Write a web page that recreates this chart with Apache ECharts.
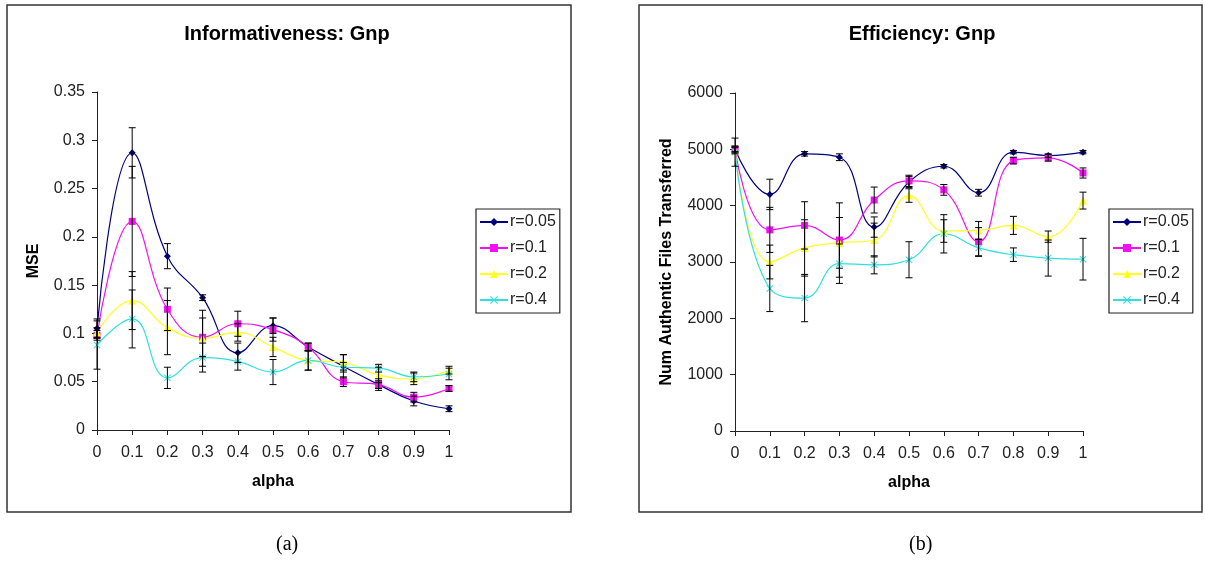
<!DOCTYPE html>
<html>
<head>
<meta charset="utf-8">
<script src="https://cdn.jsdelivr.net/npm/echarts@6/dist/echarts.min.js"></script>
<style>
  html, body { margin: 0; padding: 0; background: #fff; }
  #main { width: 1205px; height: 563px; }
</style>
</head>
<body>
<div id="main"></div>
<script>
// ---- data
const alpha = [0, 0.1, 0.2, 0.3, 0.4, 0.5, 0.6, 0.7, 0.8, 0.9, 1];
const seriesNames = ['r=0.05', 'r=0.1', 'r=0.2', 'r=0.4'];

// (a) Informativeness: MSE
const mse_r005 = [0.105, 0.287, 0.180, 0.137, 0.080, 0.108, 0.086, 0.066, 0.047, 0.030, 0.022];
const mse_r01  = [0.098, 0.216, 0.125, 0.096, 0.110, 0.104, 0.086, 0.050, 0.047, 0.034, 0.043];
const mse_r02  = [0.101, 0.134, 0.106, 0.095, 0.101, 0.086, 0.072, 0.070, 0.057, 0.053, 0.062];
const mse_r04  = [0.088, 0.115, 0.054, 0.075, 0.071, 0.060, 0.072, 0.065, 0.064, 0.055, 0.058];
const mse_r005_err = [0.010, 0.026, 0.013, 0.003, 0.010, 0.008, 0.004, 0.012, 0.004, 0.005, 0.003];
const mse_r01_err  = [0.005, 0.057, 0.022, 0.020, 0.013, 0.012, 0.004, 0.005, 0.006, 0.005, 0.003];
const mse_r02_err  = [0.005, 0.030, 0.028, 0.029, 0.009, 0.010, 0.010, 0.008, 0.008, 0.006, 0.004];
const mse_r04_err  = [0.025, 0.030, 0.011, 0.015, 0.009, 0.013, 0.010, 0.005, 0.004, 0.005, 0.006];

// (b) Efficiency: num authentic files transferred
const files_r005 = [5000, 4200, 4920, 4860, 3620, 4420, 4700, 4230, 4950, 4890, 4950];
const files_r01  = [5000, 3570, 3650, 3390, 4100, 4440, 4280, 3360, 4800, 4850, 4580];
const files_r02  = [4980, 3000, 3250, 3340, 3390, 4180, 3550, 3560, 3650, 3450, 4090];
const files_r04  = [4950, 2530, 2360, 2970, 2950, 3040, 3500, 3250, 3130, 3070, 3050];
const files_r005_err = [40, 270, 40, 60, 180, 100, 30, 60, 30, 30, 30];
const files_r01_err  = [60, 400, 420, 660, 230, 100, 95, 250, 60, 60, 90];
const files_r02_err  = [60, 300, 500, 450, 300, 120, 200, 160, 160, 100, 150];
const files_r04_err  = [250, 410, 420, 350, 160, 320, 340, 150, 120, 320, 370];

const yTicksA = { min: 0, max: 0.35, interval: 0.05 };
const yTicksB = { min: 0, max: 6000, interval: 1000 };

// ---- styles
const colors = ['#000080', '#F010F0', '#FFFF20', '#30E0E0'];
const symbols = ['diamond', 'rect', 'triangle',
    'path://M0,1L1,0L5,4L9,0L10,1L6,5L10,9L9,10L5,6L1,10L0,9L4,5Z'];
const symbolSizes = [7, 7, 8, 7];

var chart = echarts.init(document.getElementById('main'));

function lineSeries(idx, gridIdx, values) {
    return {
        name: seriesNames[idx],
        type: 'line',
        xAxisIndex: gridIdx,
        yAxisIndex: gridIdx,
        smooth: 0.45,
        symbol: symbols[idx],
        symbolSize: symbolSizes[idx],
        lineStyle: { width: 1.2, color: colors[idx] },
        itemStyle: { color: colors[idx] },
        data: alpha.map(function (a, i) { return [a, values[i]]; }),
        z: 3
    };
}

function errorSeries(gridIdx, values, errors) {
    let data = [];
    alpha.forEach(function (a, i) {
        if (errors[i] > 0) data.push([a, values[i] - errors[i], values[i] + errors[i]]);
    });
    return {
        name: 'err',
        type: 'custom',
        xAxisIndex: gridIdx,
        yAxisIndex: gridIdx,
        data: data,
        z: 4,
        renderItem: function (params, api) {
            let x = api.value(0);
            let lo = api.coord([x, api.value(1)]);
            let hi = api.coord([x, api.value(2)]);
            let w = 3.5;
            let st = { stroke: '#000', lineWidth: 1 };
            return {
                type: 'group',
                children: [
                    { type: 'line', shape: { x1: lo[0], y1: hi[1], x2: lo[0], y2: lo[1] }, style: st },
                    { type: 'line', shape: { x1: lo[0] - w, y1: hi[1], x2: lo[0] + w, y2: hi[1] }, style: st },
                    { type: 'line', shape: { x1: lo[0] - w, y1: lo[1], x2: lo[0] + w, y2: lo[1] }, style: st }
                ]
            };
        }
    };
}

const axisTxt = { color: '#222', fontSize: 16, fontFamily: 'Liberation Sans, Arial, sans-serif' };
const nameTxt = { color: '#000', fontSize: 16, fontWeight: 'bold', fontFamily: 'Liberation Sans, Arial, sans-serif' };

function xAxisCfg(gridIdx) {
    return {
        type: 'value', gridIndex: gridIdx, min: 0, max: 1, interval: 0.1,
        name: 'alpha', nameLocation: 'middle', nameGap: 44, nameTextStyle: nameTxt,
        axisLine: { lineStyle: { color: '#222', width: 1 } },
        axisTick: { length: 5, lineStyle: { color: '#222' } },
        axisLabel: Object.assign({ margin: 15 }, axisTxt),
        splitLine: { show: false }
    };
}

function yAxisCfg(gridIdx, ticks, name, gap) {
    return {
        type: 'value', gridIndex: gridIdx, min: ticks.min, max: ticks.max, interval: ticks.interval,
        name: name, nameLocation: 'middle', nameGap: gap, nameTextStyle: nameTxt,
        axisLine: { show: true, lineStyle: { color: '#222', width: 1 } },
        axisTick: { show: true, length: 5, lineStyle: { color: '#222' } },
        axisLabel: Object.assign({ margin: 12, formatter: function (v) { return String(v); } }, axisTxt),
        splitLine: { show: false }
    };
}

function legendCfg(left) {
    return {
        data: seriesNames,
        orient: 'vertical',
        left: left, top: 209,
        itemWidth: 28, itemHeight: 10, itemGap: 10,
        padding: [5, 4, 5, 3],
        borderColor: '#222', borderWidth: 1.2,
        textStyle: { color: '#222', fontSize: 16, fontFamily: 'Liberation Sans, Arial, sans-serif', padding: [0, 0, 0, -3] }
    };
}

const titleTxt = { color: '#000', fontSize: 20, fontWeight: 'bold', fontFamily: 'Liberation Sans, Arial, sans-serif' };

option = {
    backgroundColor: '#fff',
    animation: false,
    title: [
        { text: 'Informativeness: Gnp', left: 287, top: 24, textAlign: 'center', padding: 0, textStyle: titleTxt },
        { text: 'Efficiency: Gnp', left: 922, top: 24, textAlign: 'center', padding: 0, textStyle: titleTxt }
    ],
    legend: [legendCfg(476), legendCfg(1109)],
    grid: [
        { left: 97, width: 352, top: 92, height: 338 },
        { left: 735, width: 348, top: 93, height: 338 }
    ],
    xAxis: [xAxisCfg(0), xAxisCfg(1)],
    yAxis: [yAxisCfg(0, yTicksA, 'MSE', 55), yAxisCfg(1, yTicksB, 'Num Authentic Files Transferred', 60)],
    graphic: [
        { type: 'rect', shape: { x: 7, y: 5, width: 564, height: 507 }, style: { fill: null, stroke: '#333', lineWidth: 1.5 }, silent: true },
        { type: 'rect', shape: { x: 639, y: 5, width: 563, height: 507 }, style: { fill: null, stroke: '#333', lineWidth: 1.5 }, silent: true },
        { type: 'text', left: 276, top: 535, style: { text: '(a)', fontSize: 20, fontFamily: 'Liberation Serif, Times New Roman, serif', fill: '#000' } },
        { type: 'text', left: 909, top: 535, style: { text: '(b)', fontSize: 20, fontFamily: 'Liberation Serif, Times New Roman, serif', fill: '#000' } }
    ],
    series: [
        lineSeries(0, 0, mse_r005), lineSeries(1, 0, mse_r01), lineSeries(2, 0, mse_r02), lineSeries(3, 0, mse_r04),
        errorSeries(0, mse_r005, mse_r005_err), errorSeries(0, mse_r01, mse_r01_err),
        errorSeries(0, mse_r02, mse_r02_err), errorSeries(0, mse_r04, mse_r04_err),
        lineSeries(0, 1, files_r005), lineSeries(1, 1, files_r01), lineSeries(2, 1, files_r02), lineSeries(3, 1, files_r04),
        errorSeries(1, files_r005, files_r005_err), errorSeries(1, files_r01, files_r01_err),
        errorSeries(1, files_r02, files_r02_err), errorSeries(1, files_r04, files_r04_err)
    ]
};
chart.setOption(option);
</script>
</body>
</html>
